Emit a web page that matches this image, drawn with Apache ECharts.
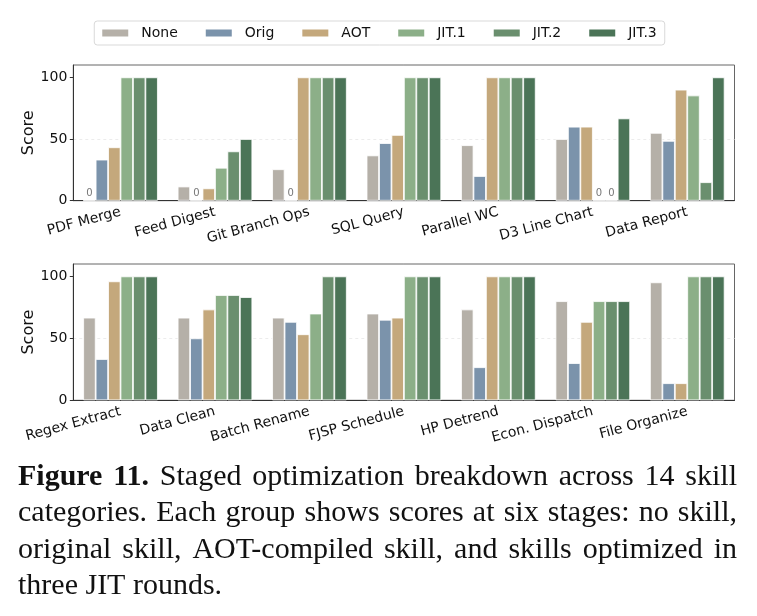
<!DOCTYPE html>
<html><head><meta charset="utf-8">
<script src="https://cdn.jsdelivr.net/npm/echarts@6/dist/echarts.min.js"></script>
<style>html,body{margin:0;padding:0;background:#fff;}#c{width:757px;height:616px;}</style>
</head><body><div id="c"></div>
<script>
// ---------- data ----------
const stages = ["None", "Orig", "AOT", "JIT.1", "JIT.2", "JIT.3"];
const topCategories = ["PDF Merge", "Feed Digest", "Git Branch Ops", "SQL Query", "Parallel WC", "D3 Line Chart", "Data Report"];
const bottomCategories = ["Regex Extract", "Data Clean", "Batch Rename", "FJSP Schedule", "HP Detrend", "Econ. Dispatch", "File Organize"];

const topNone = [0, 11.5, 25.5, 36.7, 45, 50, 55];
const topOrig = [33.3, 0, 0, 46.7, 20, 60, 48.5];
const topAOT = [43.3, 10, 100, 53.3, 100, 60, 90];
const topJIT1 = [100, 26.7, 100, 100, 100, 0, 85.3];
const topJIT2 = [100, 40, 100, 100, 100, 0, 15];
const topJIT3 = [100, 50, 100, 100, 100, 66.7, 100];

const bottomNone = [66.7, 66.7, 66.7, 70, 73.3, 80, 95.2];
const bottomOrig = [33.3, 50, 63.3, 65, 26.7, 30, 13.8];
const bottomAOT = [96, 73.3, 53.3, 66.7, 100, 63.3, 13.8];
const bottomJIT1 = [100, 85, 70, 100, 100, 80, 100];
const bottomJIT2 = [100, 85, 100, 100, 100, 80, 100];
const bottomJIT3 = [100, 83.3, 100, 100, 100, 80, 100];

const yTicks = [0, 50, 100];
const yMax = 110;
const yLabel = "Score";

const captionLines = [
  "Figure 11. Staged optimization breakdown across 14 skill",
  "categories. Each group shows scores at six stages: no skill,",
  "original skill, AOT-compiled skill, and skills optimized in",
  "three JIT rounds."
];
const captionBoldWords = 2;

// ---------- styles ----------
const stageColors = ["#b5b0a8", "#7b93ab", "#c4a87c", "#8caf88", "#6a8f6e", "#4b7457"];
const FONT = "'DejaVu Sans', sans-serif";
const SERIF = "'Liberation Serif', serif";

const topSeries = [topNone, topOrig, topAOT, topJIT1, topJIT2, topJIT3];
const bottomSeries = [bottomNone, bottomOrig, bottomAOT, bottomJIT1, bottomJIT2, bottomJIT3];

function makeX(gi, cats) {
  return {
    gridIndex: gi, type: 'category', data: cats,
    axisLine: { lineStyle: { color: '#333', width: 1 } },
    axisTick: { alignWithLabel: true, length: 3.5, lineStyle: { color: '#333' } },
    axisLabel: { interval: 0, rotate: 15, margin: 11, fontFamily: FONT, fontSize: 14, color: '#111' }
  };
}
function makeY(gi) {
  return {
    gridIndex: gi, type: 'value', min: 0, max: yMax, interval: 50,
    name: yLabel, nameLocation: 'middle', nameGap: 36, nameMoveOverlap: false,
    nameTextStyle: { fontFamily: FONT, fontSize: 16, color: '#111' },
    axisLine: { show: true, lineStyle: { color: '#333', width: 1 } },
    axisTick: { show: true, length: 3.5, customValues: yTicks, lineStyle: { color: '#333' } },
    axisLabel: { customValues: yTicks, margin: 6, fontFamily: FONT, fontSize: 14, color: '#111' },
    splitLine: { show: true, showMinLine: false, showMaxLine: false, lineStyle: { color: '#e8e8e8', type: [3, 3], width: 0.8 } }
  };
}
function makeSeries(gi, arrs) {
  return arrs.map((vals, i) => ({
    name: stages[i], type: 'bar', xAxisIndex: gi, yAxisIndex: gi, data: vals,
    barGap: '0%', barCategoryGap: '21%',
    itemStyle: { color: stageColors[i], borderColor: '#ffffff', borderWidth: 0.8 },
    label: {
      show: true, position: 'top', distance: 2,
      formatter: p => (p.value === 0 ? '0' : ''),
      fontFamily: FONT, fontSize: 10, color: '#777'
    },
    emphasis: { disabled: true }
  }));
}

// ---------- caption (justified, words placed by measured width) ----------
const cap = { left: 18, right: 737, firstBaseline: 487, step: 36.3, size: 30 };
const mctx = document.createElement('canvas').getContext('2d');
function measure(t, bold) {
  mctx.font = (bold ? 'bold ' : '') + cap.size + 'px ' + SERIF;
  return mctx.measureText(t).width;
}
const graphics = [];
captionLines.forEach((line, li) => {
  const words = line.split(' ');
  const bold = words.map((w, i) => li === 0 && i < captionBoldWords);
  const widths = words.map((w, i) => measure(w, bold[i]));
  const total = widths.reduce((a, b) => a + b, 0);
  const justify = li < captionLines.length - 1;
  const gap = justify ? (cap.right - cap.left - total) / (words.length - 1) : measure(' ', false);
  let x = cap.left;
  const baseline = cap.firstBaseline + li * cap.step;
  words.forEach((w, i) => {
    graphics.push({
      type: 'text', x: x, y: baseline - 0.33 * cap.size, silent: true,
      style: { text: w, fontFamily: SERIF, fontSize: cap.size, fontWeight: bold[i] ? 'bold' : 'normal', fill: '#111', verticalAlign: 'middle', align: 'left' }
    });
    x += widths[i] + gap;
  });
});

const chart = echarts.init(document.getElementById('c'), null, { renderer: 'canvas' });
chart.setOption({
  animation: false,
  backgroundColor: '#fff',
  legend: {
    top: 21, left: 'center', data: stages, icon: 'rect',
    itemWidth: 28, itemHeight: 9, itemGap: 26,
    borderColor: '#d9d9d9', borderWidth: 1, borderRadius: 3, padding: [5, 8, 5, 6],
    textStyle: { fontFamily: FONT, fontSize: 14, color: '#111', padding: [0, 0, 0, 7] },
    selectedMode: false
  },
  grid: [
    { left: 73.3, top: 65, width: 661.2, height: 135.7, show: true, borderColor: '#666', borderWidth: 1, containLabel: false },
    { left: 73.3, top: 264, width: 661.2, height: 136.3, show: true, borderColor: '#666', borderWidth: 1, containLabel: false }
  ],
  xAxis: [makeX(0, topCategories), makeX(1, bottomCategories)],
  yAxis: [makeY(0), makeY(1)],
  series: makeSeries(0, topSeries).concat(makeSeries(1, bottomSeries)),
  graphic: graphics
});
</script></body></html>
